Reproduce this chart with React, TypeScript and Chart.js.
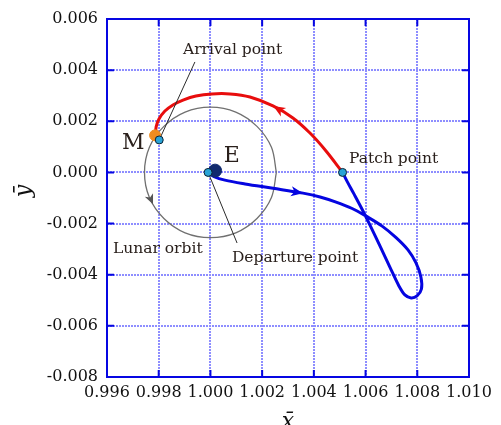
import { useEffect, useRef } from 'react';
import { Chart, registerables } from 'chart.js';

Chart.register(...registerables);

// Axis ranges and tick values (normalized rotating-frame coordinates)
const xTickValues = [0.996, 0.998, 1.0, 1.002, 1.004, 1.006, 1.008, 1.01];
const yTickValues = [-0.008, -0.006, -0.004, -0.002, 0.0, 0.002, 0.004, 0.006];

// Lunar orbit around the Earth
const lunarX = [1.00255, 1.00236, 1.0018, 1.00098, 1.0, 0.99902, 0.9982, 0.99764, 0.99745, 0.99764, 0.9982, 0.99902, 1.0, 1.00098, 1.0018, 1.00236, 1.00255];
const lunarY = [0.0, 0.00098, 0.0018, 0.00236, 0.00255, 0.00236, 0.0018, 0.00098, 0.0, -0.00098, -0.0018, -0.00236, -0.00255, -0.00236, -0.0018, -0.00098, 0.0];

// Outbound leg: departure point -> loop -> patch point
const blueX = [0.99991, 1.00014, 1.00056, 1.00134, 1.00242, 1.00358, 1.00424, 1.00486, 1.00548, 1.00602, 1.00664, 1.00718, 1.00764, 1.00795, 1.00814, 1.00816, 1.00799, 1.00776, 1.00752, 1.00729, 1.00694, 1.00656, 1.00617, 1.00586, 1.00555, 1.00528, 1.00511];
const blueY = [0.0, -0.00016, -0.0003, -0.00045, -0.00062, -0.00081, -0.00096, -0.00116, -0.00141, -0.00171, -0.0021, -0.00255, -0.00303, -0.00354, -0.00409, -0.00456, -0.00483, -0.00491, -0.00479, -0.00444, -0.0037, -0.00288, -0.00206, -0.00143, -0.00084, -0.00034, 0.0];

// Return leg: Moon (M) <- patch point
const redX = [0.99788, 0.9979, 0.99801, 0.99824, 0.99855, 0.99894, 0.99944, 1.00006, 1.00076, 1.00153, 1.00242, 1.00319, 1.00385, 1.00447, 1.00511];
const redY = [0.00146, 0.00178, 0.00209, 0.0024, 0.00264, 0.00283, 0.00299, 0.00307, 0.00307, 0.00295, 0.0026, 0.00213, 0.00154, 0.00084, 0.0];

// Key points
const departurePoint = [0.99991, 0.0];
const arrivalPoint = [0.99802, 0.00127];
const patchPoint = [1.00511, 0.0];
const earthPoint = [1.00018, 0.00007];
const moonPoint = [0.99786, 0.00145];

// Leader line ends for the callouts
const arrivalLeaderEnd = [0.9994, 0.00432];
const departureLeaderEnd = [1.00103, -0.00276];

// Direction arrows: [tailX, tailY, tipX, tipY]
const redArrow = [1.00319, 0.00213, 1.00243, 0.0026];
const blueArrow = [1.00242, -0.00062, 1.00358, -0.00081];
const lunarArrow = [0.99762, -0.00088, 0.99778, -0.00124];

// Callout texts with anchor (left, baseline) in data units
const calloutTexts = ['Arrival point', 'Patch point', 'Lunar orbit', 'Departure point', 'M', 'E'];
const calloutX = [0.99894, 1.00536, 0.99623, 1.00083, 0.99658, 1.00052];
const calloutY = [0.00463, 0.00037, -0.00315, -0.0035, 0.00092, 0.00041];

const toXY = (xs: number[], ys: number[]) => xs.map((x, i) => ({ x, y: ys[i] }));
const pt = (p: number[]) => [{ x: p[0], y: p[1] }];

const FRAME = '#0606e2';
const GRID = '#8e8eff';
const SERIF = '"DejaVu Serif", serif';

const decorPlugin = {
  id: 'decor',
  beforeDatasetsDraw(chart: any) {
    const { ctx, chartArea, scales } = chart;
    const { left, right, top, bottom } = chartArea;
    // dotted grid
    ctx.save();
    ctx.strokeStyle = GRID;
    ctx.lineWidth = 2;
    ctx.setLineDash([2, 1]);
    ctx.beginPath();
    xTickValues.forEach((v) => {
      const px = Math.round(scales.x.getPixelForValue(v));
      ctx.moveTo(px, top);
      ctx.lineTo(px, bottom);
    });
    yTickValues.forEach((v) => {
      const py = Math.round(scales.y.getPixelForValue(v));
      ctx.moveTo(left, py);
      ctx.lineTo(right, py);
    });
    ctx.stroke();
    ctx.restore();
  },
  afterDatasetsDraw(chart: any) {
    const { ctx, chartArea, scales } = chart;
    const xs = scales.x;
    const ys = scales.y;
    const { left, right, top, bottom } = chartArea;

    // Arrowheads
    const drawArrow = (a: number[], color: string, len: number, hw: number) => {
      const tx = xs.getPixelForValue(a[0]);
      const ty = ys.getPixelForValue(a[1]);
      const hx = xs.getPixelForValue(a[2]);
      const hy = ys.getPixelForValue(a[3]);
      const ang = Math.atan2(hy - ty, hx - tx);
      ctx.save();
      ctx.translate(hx, hy);
      ctx.rotate(ang);
      ctx.fillStyle = color;
      ctx.beginPath();
      ctx.moveTo(0, 0);
      ctx.lineTo(-len, -hw);
      ctx.lineTo(-len * 0.72, 0);
      ctx.lineTo(-len, hw);
      ctx.closePath();
      ctx.fill();
      ctx.restore();
    };
    drawArrow(redArrow, '#e80d0d', 12, 5);
    drawArrow(blueArrow, '#0505e0', 12, 5);
    drawArrow(lunarArrow, '#555555', 10, 4.5);

    // Frame with inward ticks
    ctx.save();
    ctx.strokeStyle = FRAME;
    ctx.lineWidth = 2;
    ctx.strokeRect(left, top, right - left, bottom - top);
    const tl = 7;
    ctx.beginPath();
    xTickValues.forEach((v) => {
      const px = xs.getPixelForValue(v);
      ctx.moveTo(px, bottom);
      ctx.lineTo(px, bottom - tl);
      ctx.moveTo(px, top);
      ctx.lineTo(px, top + tl);
    });
    yTickValues.forEach((v) => {
      const py = ys.getPixelForValue(v);
      ctx.moveTo(left, py);
      ctx.lineTo(left + tl, py);
      ctx.moveTo(right, py);
      ctx.lineTo(right - tl, py);
    });
    ctx.stroke();
    ctx.restore();

    // Callout texts
    ctx.save();
    ctx.fillStyle = '#2a201c';
    ctx.textAlign = 'left';
    ctx.textBaseline = 'alphabetic';
    calloutTexts.forEach((t, i) => {
      const big = t.length === 1;
      ctx.font = `${big ? 22 : 15.5}px ${SERIF}`;
      ctx.fillText(t, xs.getPixelForValue(calloutX[i]), ys.getPixelForValue(calloutY[i]));
    });
    ctx.restore();

    // Axis titles
    ctx.save();
    ctx.fillStyle = '#111111';
    ctx.font = `italic 22px ${SERIF}`;
    ctx.textAlign = 'center';
    ctx.textBaseline = 'alphabetic';
    ctx.fillText('x\u0304', (left + right) / 2, 428);
    ctx.translate(30, (top + bottom) / 2 - 7);
    ctx.rotate(-Math.PI / 2);
    ctx.fillText('\u0233', 0, 0);
    ctx.restore();
  },
};

const pointSet = (p: number[], bg: string, r: number, border: string) => ({
  data: pt(p),
  showLine: false,
  pointRadius: r,
  pointBackgroundColor: bg,
  pointBorderColor: border,
  pointBorderWidth: 1,
});

const lineSet = (data: { x: number; y: number }[], color: string, width: number, tension: number) => ({
  data,
  showLine: true,
  borderColor: color,
  borderWidth: width,
  pointRadius: 0,
  tension,
  fill: false,
});

export default function App() {
  const ref = useRef<HTMLCanvasElement>(null);

  useEffect(() => {
    if (!ref.current) return;
    const chart = new Chart(ref.current, {
      type: 'scatter',
      data: {
        datasets: [
          pointSet(departurePoint, '#29a3d6', 4, '#0b2233'),
          pointSet(arrivalPoint, '#29a3d6', 4, '#0b2233'),
          pointSet(patchPoint, '#29a3d6', 4, '#0b2233'),
          pointSet(earthPoint, '#10296e', 6.5, '#10296e'),
          pointSet(moonPoint, '#ef8c1f', 5.5, '#ef8c1f'),
          lineSet([{ x: arrivalLeaderEnd[0], y: arrivalLeaderEnd[1] }, ...pt(arrivalPoint)], '#2b2b2b', 1, 0),
          lineSet([...pt(departurePoint), { x: departureLeaderEnd[0], y: departureLeaderEnd[1] }], '#2b2b2b', 1, 0),
          lineSet(toXY(redX, redY), '#e80d0d', 3, 0.35),
          lineSet(toXY(blueX, blueY), '#0505e0', 3, 0.35),
          lineSet(toXY(lunarX, lunarY), '#707070', 1.3, 0.34),
        ] as any,
      },
      options: {
        responsive: false,
        animation: false,
        devicePixelRatio: 1,
        layout: { padding: { left: 0, top: 19, right: 32, bottom: 0 } },
        plugins: { legend: { display: false }, tooltip: { enabled: false } },
        scales: {
          x: {
            type: 'linear',
            min: 0.996,
            max: 1.01,
            afterFit: (s: any) => {
              s.height = 48;
            },
            afterBuildTicks: (s: any) => {
              s.ticks = xTickValues.map((v) => ({ value: v }));
            },
            ticks: {
              padding: 6,
              color: '#111111',
              font: { family: SERIF, size: 16 },
              callback: (v: any) => Number(v).toFixed(3),
              maxRotation: 0,
            },
            grid: { display: false, drawTicks: false },
            border: { display: false },
          },
          y: {
            type: 'linear',
            min: -0.008,
            max: 0.006,
            afterFit: (s: any) => {
              s.width = 107;
            },
            afterBuildTicks: (s: any) => {
              s.ticks = yTickValues.map((v) => ({ value: v }));
            },
            ticks: {
              padding: 9,
              color: '#111111',
              font: { family: SERIF, size: 16 },
              callback: (v: any) => Number(v).toFixed(3),
            },
            grid: { display: false, drawTicks: false },
            border: { display: false },
          },
        },
      } as any,
      plugins: [decorPlugin],
    });
    return () => chart.destroy();
  }, []);

  return (
    <div style={{ position: 'fixed', left: 0, top: 0, width: 501, height: 425, background: '#ffffff' }}>
      <canvas ref={ref} width={501} height={425} style={{ width: 501, height: 425, display: 'block' }} />
    </div>
  );
}
